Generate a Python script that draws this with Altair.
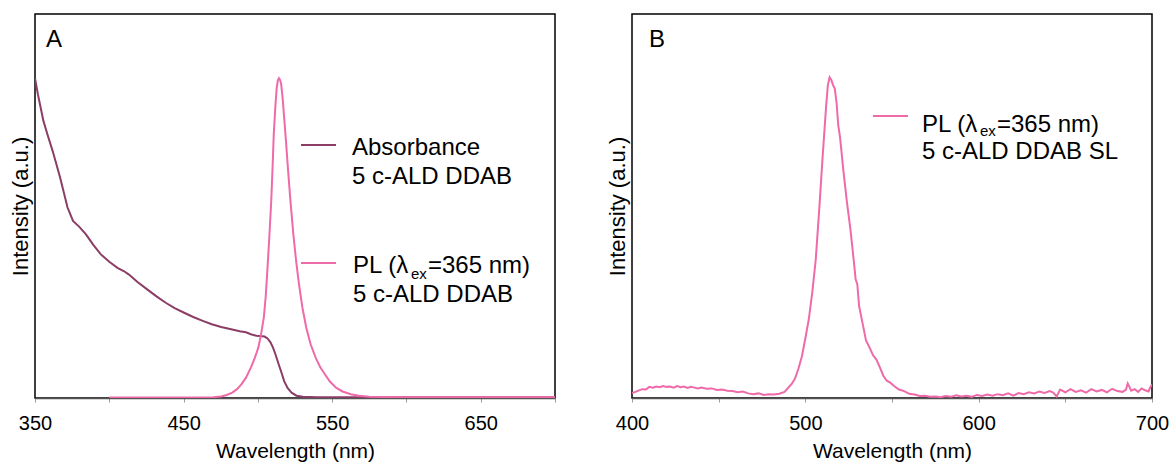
import altair as alt
import pandas as pd

# ---------------- data ----------------
# Panel A: absorbance of 5 c-ALD DDAB
abs_wl = [350, 352, 355.7, 358.5, 361.9, 366.9, 371.9, 375.6, 380, 384.3, 389, 394.3,
          400, 405.5, 410, 413, 419, 425.5, 432, 438, 444, 450.4, 456.5, 462.9, 469,
          475.3, 482, 487.8, 492, 495.3, 499, 502.8, 504.5, 506.5, 508.5, 510.2, 512,
          514, 516, 517.7, 520, 522.7, 526, 530.2, 540, 600, 650, 700]
abs_val = [83.3, 79, 72.1, 68.5, 64.3, 57.4, 49.6, 46.1, 44.5, 42.6, 40, 37.4,
           35.5, 33.9, 33, 32.2, 30.2, 28.3, 26.4, 24.8, 23.4, 22.2, 21.1, 20.1, 19.2,
           18.5, 17.9, 17.4, 17.1, 16.6, 16.2, 16.1, 16.0, 15.5, 14.5, 13.1, 11.2,
           8.8, 6.5, 4.4, 2.6, 1.4, 0.6, 0.3, 0.2, 0.2, 0.2, 0.2]

# Panel A: PL (lambda_ex = 365 nm) of 5 c-ALD DDAB
pla_wl = [400, 450, 470, 475.3, 479, 482.8, 486, 489, 492, 495.3, 498, 500.3, 502, 504,
          505.3, 506.5, 507.8, 509, 510, 510.7, 511.8, 512.7, 513.5, 514.2, 515, 515.7,
          516.7, 517.7, 519, 520.2, 522, 523.9, 525.8, 527.7, 530, 532.6, 535.5, 538.9,
          542, 545.1, 548.5, 552.6, 557, 562.6, 568, 575, 600, 650, 700]
pla_val = [0.1, 0.1, 0.2, 0.4, 0.8, 1.4, 2.3, 3.6, 5.3, 7.9, 10.5, 13.1, 16.2, 20.9,
           26.5, 33.9, 42.5, 51.3, 61, 68.7, 76, 80.8, 82.8, 83.3, 82.8, 81.7,
           78, 73, 66.5, 60, 51, 42.6, 35.5, 29.6, 23.5, 18.3, 14, 10.5,
           8, 6.2, 4.3, 2.7, 1.7, 1.0, 0.6, 0.3, 0.2, 0.2, 0.2]

# Panel B: PL (lambda_ex = 365 nm) of 5 c-ALD DDAB SL
plb_wl = [400, 402, 404, 406, 408, 410, 412, 414, 416, 418, 420, 422, 424, 426, 428, 430,
          432, 434, 436, 438, 440, 443, 446, 449, 452, 455, 458, 461, 464, 467, 470, 473,
          476, 479, 482, 485, 488, 490, 492, 494, 496, 498, 500, 502, 504, 506, 508, 510,
          512, 513, 514, 515, 516, 517, 518, 519, 520, 522, 524, 526, 528, 529, 530, 531,
          533, 535, 537, 539, 541, 543, 545, 547, 549, 551, 554, 557, 560, 563, 566, 569,
          572, 575, 578, 581, 584, 587, 590, 593, 596, 599, 602, 605, 608, 611, 614, 617,
          620, 623, 626, 629, 632, 635, 638, 641, 643, 645, 647, 650, 653, 656, 659, 662,
          665, 668, 671, 674, 677, 680, 683, 685, 686, 687, 688, 690, 692, 694, 696, 698,
          699, 700]
plb_val = [1.3, 1.6, 2.0, 2.3, 2.2, 2.9, 2.7, 3.0, 2.8, 3.1, 2.9, 3.0, 2.7, 3.1, 2.8, 3.0,
           2.6, 2.9, 2.7, 2.5, 2.7, 2.4, 2.5, 2.1, 2.2, 1.9, 1.8, 1.5, 1.7, 1.2, 1.0, 1.2,
           0.8, 1.0, 0.9, 1.1, 1.6, 2.6, 3.6, 5.0, 7.6, 10.8, 15.5, 20.5, 27.5, 36, 49, 63,
           76, 81.5, 83.5, 82.8, 81.5, 80.5, 77, 71, 68, 59, 51, 44, 35.5, 31, 29.6, 24,
           19.5, 15, 13.2, 11.2, 10, 8, 5.8, 4.5, 4.0, 3.2, 2.2, 1.8, 1.1, 0.9, 0.5, 0.6,
           0.3, 0.4, 0.2, 0.5, 0.3, 0.7, 0.4, 0.6, 0.3, 0.8, 0.5, 0.9, 0.6, 1.0, 0.7, 1.2,
           0.6, 1.3, 1.0, 1.5, 1.2, 1.7, 1.3, 1.8, 1.4, 0.4, 2.2, 1.5, 2.3, 1.6, 2.0, 1.4,
           2.3, 1.7, 2.1, 1.5, 2.4, 1.8, 1.6, 2.2, 3.8, 2.9, 1.9, 2.3, 1.6, 2.5, 2.0, 1.7,
           2.8, 3.5]

series_a = ["Absorbance", "PL"]
x_ticks_a = [350, 400, 450, 500, 550, 600, 650, 700]
x_ticks_b = [400, 450, 500, 550, 600, 650, 700]

PINK = "#ef6aa8"
MAUVE = "#8b3d66"
FONT = "Liberation Sans"

dfA = pd.DataFrame({
    "wl": abs_wl + pla_wl,
    "val": abs_val + pla_val,
    "series": ["Absorbance"] * len(abs_wl) + ["PL"] * len(pla_wl),
    "order": list(range(len(abs_wl))) + list(range(len(pla_wl))),
})
dfB = pd.DataFrame({"wl": plb_wl, "val": plb_val})

W, H = 520, 384


def x_enc(domain, ticks, expr):
    return alt.X("wl:Q",
                 scale=alt.Scale(domain=domain, nice=False, zero=False),
                 axis=alt.Axis(values=ticks, labelExpr=expr, title="Wavelength (nm)",
                               grid=False, tickSize=4, tickColor="#9a9a9a",
                               domainColor="#555555", domainWidth=1.5,
                               labelFontSize=20, labelPadding=11, labelColor="black",
                               labelFlush=False, labelOverlap=False,
                               titleFontSize=21, titleFontWeight="normal",
                               titleColor="black", titlePadding=7,
                               labelFont=FONT, titleFont=FONT))


y_enc = alt.Y("val:Q", scale=alt.Scale(domain=[0, 100], nice=False),
              axis=alt.Axis(labels=False, ticks=False, domain=False, grid=False,
                            title="Intensity (a.u.)", titleFontSize=22,
                            titleFontWeight="normal", titleColor="black",
                            titlePadding=3, titleFont=FONT))


def txt(s, x, y, size=24, color="black"):
    return alt.Chart(pd.DataFrame({"t": [s]})).mark_text(
        align="left", baseline="alphabetic", fontSize=size, font=FONT, color=color
    ).encode(text="t:N", x=alt.value(x), y=alt.value(y))


def key(color, x1, x2, y):
    return alt.Chart(pd.DataFrame({"k": [0]})).mark_rule(
        color=color, strokeWidth=2
    ).encode(x=alt.value(x1), x2=alt.value(x2), y=alt.value(y))


linesA = alt.Chart(dfA).mark_line(strokeWidth=2, clip=True).encode(
    x=x_enc([350, 700], x_ticks_a, "datum.value % 100 == 50 ? datum.label : ''"),
    y=y_enc,
    color=alt.Color("series:N", scale=alt.Scale(domain=series_a, range=[MAUVE, PINK]),
                    legend=None),
    order="order:Q",
)

panelA = alt.layer(
    linesA,
    txt("A", 11, 33),
    key(MAUVE, 266, 301, 131),
    txt("Absorbance", 317, 141),
    txt("5 c-ALD DDAB", 317, 170),
    key(PINK, 266, 301, 249),
    txt("PL (λ", 318, 259),
    txt("ex", 376, 265, size=15),
    txt("=365 nm)", 393, 259),
    txt("5 c-ALD DDAB", 318, 288),
).properties(width=W, height=H)

lineB = alt.Chart(dfB).mark_line(strokeWidth=2, color=PINK, clip=True).encode(
    x=x_enc([400, 700], x_ticks_b, "datum.value % 100 == 0 ? datum.label : ''"),
    y=y_enc,
)

panelB = alt.layer(
    lineB,
    txt("B", 17, 33),
    key(PINK, 241, 276, 102),
    txt("PL (λ", 290, 118),
    txt("ex", 348, 122, size=15),
    txt("=365 nm)", 365, 118),
    txt("5 c-ALD DDAB SL", 290, 145),
).properties(width=W, height=H)

chart = alt.hconcat(panelA, panelB, spacing=48).properties(
    padding={"left": 8, "top": 13, "right": 0, "bottom": 0},
    background="white",
).configure_view(stroke="black", strokeWidth=1.5)

chart.save("out.html", embed_options={"renderer": "svg", "actions": False})
